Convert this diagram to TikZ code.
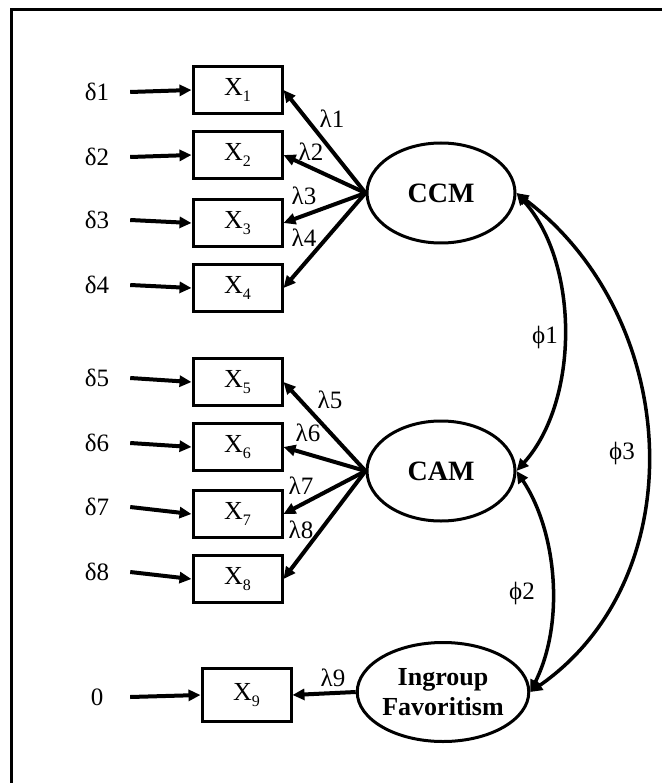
\documentclass[tikz,border=0pt]{standalone}
\usepackage{fontspec}
\setmainfont{Liberation Serif}
\usetikzlibrary{arrows.meta,shapes.geometric}

\newcommand{\obsvar}[1]{{\fontsize{26}{28}\selectfont X}\raisebox{-.5ex}{\fontsize{16}{16}\selectfont #1}}

\begin{document}
\begin{tikzpicture}[
        x = 1pt, y = -1pt,
        font = \fontsize{25}{28}\selectfont,
        obs/.style = {draw, line width = 3pt, minimum width = 89pt, minimum height = 47pt, inner sep = 0},
        err/.style = {minimum width = 66pt, inner sep = 0},
        lat/.style = {ellipse, draw, line width = 3pt, minimum width = 148pt, minimum height = 100pt,
            inner sep = 0, font = \fontsize{28}{30}\selectfont\bfseries},
        load/.style = {line width = 4pt, -{Triangle[length = 12pt, width = 11pt]}},
        cov/.style = {line width = 3.5pt, {Triangle[length = 12pt, width = 11pt]}-{Triangle[length = 12pt, width = 11pt]}}
    ]
        \useasboundingbox (0, 0) rectangle (661, 783);
        \draw[line width = 3pt] (11, 800) -- (11, 9.5) -- (680, 9.5);

        \node[lat] (ccm) at (441, 193) {CCM};
        \node[lat] (cam) at (441, 471) {CAM};
        \node[lat, minimum width = 150pt, minimum height = 99pt, align = center,
            font = \fontsize{26}{30}\selectfont\bfseries] (ingroup) at (443, 692) {Ingroup\\Favoritism};

        % indicators with their error terms and loadings
        \foreach \i/\y/\ey/\lx/\ly/\fac in {1/90/92/332/119/ccm, 2/155/157/311/152/ccm,
                3/223/220/304/196/ccm, 4/288/285/304/238/ccm, 5/382/378/330/400/cam,
                6/447/443/308/433/cam, 7/514/507/301/486/cam, 8/579/572/301/530/cam} {
            \node[obs] (x\i) at (237.5, \y) {\obsvar{\i}};
            \node[err] (d\i) at (97, \ey) {δ\i};
            \draw[load] (d\i.east) -- (x\i.west);
            \draw[load] (\fac.west) -- (x\i.east);
            \node at (\lx, \ly) {λ\i};
        }

        \node[obs, minimum height = 53pt] (x9) at (246.5, 695) {\obsvar{9}};
        \node[err] (d9) at (97, 697) {0};
        \draw[load] (d9.east) -- (x9.west);
        \draw[load] (ingroup.west) -- (x9.east);
        \node at (333, 678) {λ9};

        % factor covariances
        \draw[cov] (ccm.east) .. controls +(63, 70) and +(63, -70) .. (cam.east);
        \draw[cov] (cam.east) .. controls +(40, 60) and +(35, -70) .. (ingroup.east);
        \draw[cov] (ccm.east) .. controls +(165, 125) and +(165, -115) .. (ingroup.east);
        \node at (545, 337) {ϕ1};
        \node at (522, 593) {ϕ2};
        \node at (622, 453) {ϕ3};
    \end{tikzpicture}
\end{document}
